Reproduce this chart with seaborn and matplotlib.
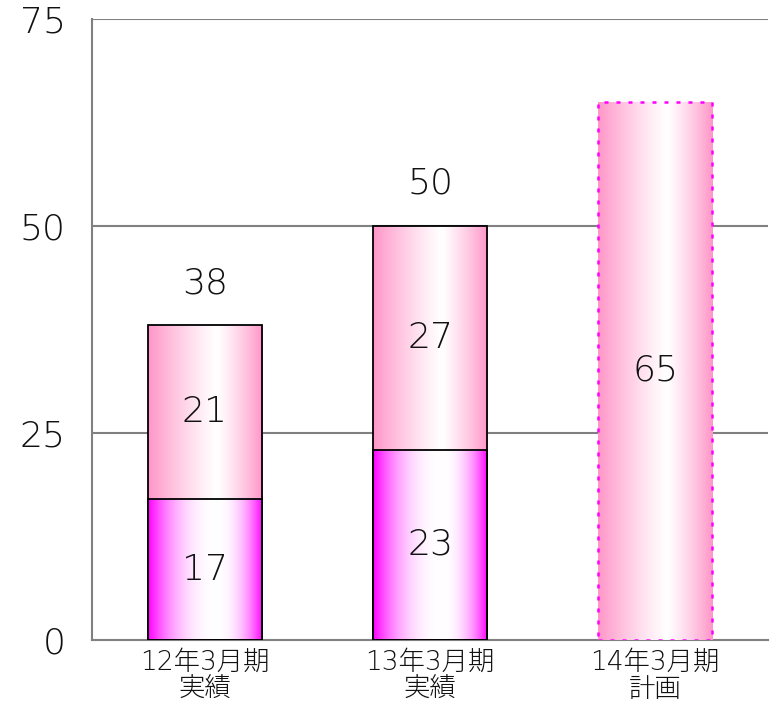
import numpy as np
import pandas as pd
import matplotlib
matplotlib.use("Agg")
import matplotlib.pyplot as plt
import seaborn as sns

# data
categories = ["12年3月期\n実績", "13年3月期\n実績", "14年3月期\n計画"]
lower = [17, 23, 0]      # lower (magenta) segment
upper = [21, 27, 0]      # upper (pink) segment
plan = [0, 0, 65]        # plan bar
yticks = [0, 25, 50, 75]

totals = [a + b + c for a, b, c in zip(lower, upper, plan)]
df = pd.DataFrame({"period": categories, "lower": lower, "upper": upper,
                   "plan": plan, "total": totals})

sns.set_theme(style="white")
plt.rcParams["font.family"] = ["DejaVu Sans", "Noto Sans CJK JP"]
plt.rcParams["font.weight"] = "light"

fig = plt.figure(figsize=(7.73, 7.07), dpi=100)
ax = fig.add_axes([92 / 773, 1 - 640 / 707, 676 / 773, 621 / 707])

BAR_W = 0.507
sns.barplot(data=df, x="period", y="total", color="#ff99cc", width=BAR_W,
            ax=ax, zorder=3)
sns.barplot(data=df, x="period", y="lower", color="#ff00ff", width=BAR_W,
            ax=ax, zorder=4)


def gradient(rgb, white_at=0.6, power=1.0, n=256):
    t = np.linspace(0, 1, n)
    d = np.where(t < white_at, 1 - t / white_at, (t - white_at) / (1 - white_at))
    w = d ** power
    c = np.array(rgb) / 255.0
    img = (1 - w)[:, None] * np.ones(3) + w[:, None] * c
    return img[None, :, :]


pink_grad = gradient((255, 150, 200), power=1.2)
mag_grad = gradient((255, 0, 255), power=2.2)

total_bars = ax.containers[0]
lower_bars = ax.containers[1]

for i, p in enumerate(total_bars):
    x, y, w, h = p.get_x(), p.get_y(), p.get_width(), p.get_height()
    im = ax.imshow(pink_grad, extent=[x, x + w, y, y + h], aspect="auto",
                   zorder=3, interpolation="bilinear")
    im.set_clip_path(p)
    p.set_facecolor("none")
    if plan[i] > 0:
        p.set_edgecolor("#ff00ff")
        p.set_linewidth(1.8)
        p.set_linestyle((0, (1.6, 3.2)))
    else:
        p.set_edgecolor("black")
        p.set_linewidth(1.3)
    p.set_zorder(5)

for i, p in enumerate(lower_bars):
    if p.get_height() <= 0:
        p.set_visible(False)
        continue
    x, y, w, h = p.get_x(), p.get_y(), p.get_width(), p.get_height()
    im = ax.imshow(mag_grad, extent=[x, x + w, y, y + h], aspect="auto",
                   zorder=4, interpolation="bilinear")
    im.set_clip_path(p)
    p.set_facecolor("none")
    p.set_edgecolor("black")
    p.set_linewidth(1.3)
    p.set_zorder(6)

# value labels
txt = dict(fontsize=26, color="#111111", fontweight="light")
for i in range(len(categories)):
    if plan[i] > 0:
        ax.text(i, plan[i] / 2, str(plan[i]), ha="center", va="center",
                zorder=7, **txt)
        continue
    ax.text(i, lower[i] / 2, str(lower[i]), ha="center", va="center",
            zorder=7, **txt)
    ax.text(i, lower[i] + upper[i] / 2, str(upper[i]), ha="center",
            va="center", zorder=7, **txt)
    ax.annotate(str(totals[i]), (i, totals[i]), xytext=(0, 18),
                textcoords="offset points", ha="center", va="bottom", **txt)

ax.set_xlim(-0.502, 2.502)
ax.set_ylim(0, 75)
ax.set_yticks(yticks)
ax.set_yticklabels([str(v) for v in yticks], **txt)
ax.set_xticks(range(len(categories)))
ax.set_xticklabels(categories, fontsize=19, color="#111111",
                   fontweight="light", linespacing=1.1)
ax.tick_params(axis="y", length=0, pad=19)
ax.tick_params(axis="x", length=0, pad=7)
ax.set_xlabel("")
ax.set_ylabel("")

ax.grid(False)
for v in yticks[1:]:
    ax.axhline(v, color="#808080", lw=1.5, zorder=1)

for s in ["top", "right"]:
    ax.spines[s].set_visible(False)
for s in ["left", "bottom"]:
    ax.spines[s].set_color("#808080")
    ax.spines[s].set_linewidth(1.5)

fig.savefig("out.png", dpi=100)
